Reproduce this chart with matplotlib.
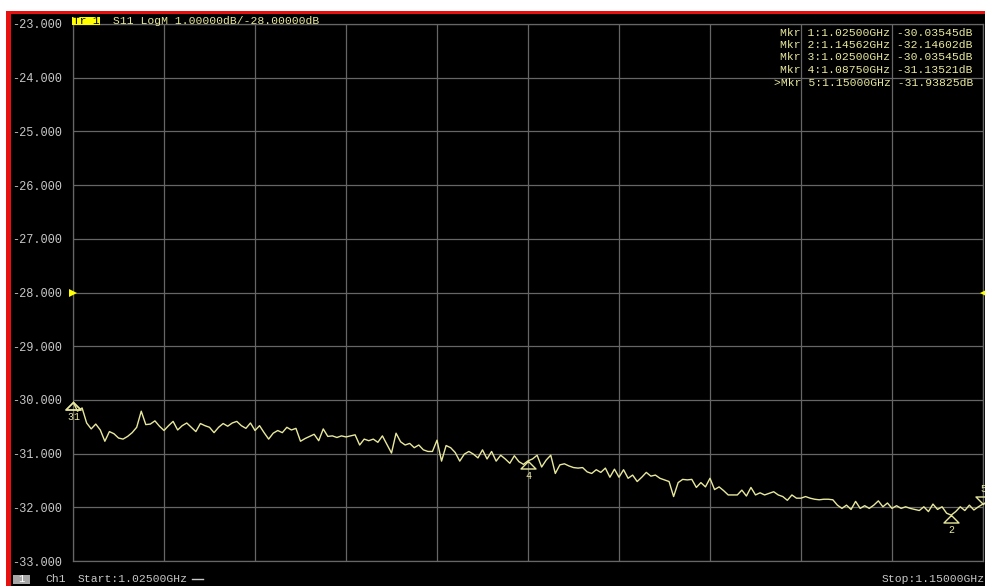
import numpy as np
import matplotlib
matplotlib.use("Agg")
import matplotlib.pyplot as plt
from matplotlib.patches import Rectangle
from matplotlib.path import Path

# ---- stimulus / trace data -------------------------------------------------
start_ghz = 1.025
stop_ghz = 1.15
n_points = 201

s11_db = [
    -30.03545, -30.21, -30.15, -30.43, -30.54, -30.45, -30.56, -30.77, -30.59, -30.63,
    -30.71, -30.73, -30.68, -30.61, -30.51, -30.21, -30.46, -30.45, -30.39, -30.49,
    -30.57, -30.48, -30.40, -30.56, -30.48, -30.43, -30.51, -30.59, -30.44, -30.48,
    -30.51, -30.61, -30.51, -30.44, -30.49, -30.43, -30.40, -30.48, -30.53, -30.43,
    -30.57, -30.48, -30.61, -30.73, -30.62, -30.57, -30.61, -30.51, -30.56, -30.53,
    -30.77, -30.72, -30.68, -30.64, -30.76, -30.54, -30.68, -30.67, -30.70, -30.67,
    -30.69, -30.67, -30.65, -30.84, -30.73, -30.76, -30.73, -30.79, -30.67, -30.83,
    -30.99, -30.62, -30.78, -30.84, -30.81, -30.89, -30.84, -30.93, -30.96, -30.96,
    -30.75, -31.14, -30.85, -30.89, -30.98, -31.14, -31.01, -30.96, -31.01, -31.08,
    -30.93, -31.10, -30.96, -31.14, -31.03, -31.10, -31.18, -31.04, -31.15, -31.20,
    -31.13521, -31.10, -31.03, -31.25, -31.12, -31.03, -31.37, -31.21, -31.19, -31.23,
    -31.26, -31.27, -31.26, -31.34, -31.37, -31.30, -31.35, -31.27, -31.44, -31.29,
    -31.44, -31.30, -31.46, -31.40, -31.52, -31.44, -31.35, -31.42, -31.40, -31.46,
    -31.49, -31.52, -31.80, -31.54, -31.48, -31.49, -31.48, -31.63, -31.54, -31.62,
    -31.46, -31.67, -31.62, -31.69, -31.77, -31.77, -31.77, -31.68, -31.79, -31.63,
    -31.77, -31.73, -31.77, -31.74, -31.71, -31.77, -31.80, -31.87, -31.77, -31.83,
    -31.83, -31.80, -31.83, -31.85, -31.86, -31.85, -31.85, -31.86, -31.96, -32.02,
    -31.96, -32.04, -31.89, -32.02, -31.97, -32.02, -31.96, -31.88, -31.99, -31.92,
    -32.02, -31.97, -32.02, -31.99, -32.02, -32.04, -32.06, -31.99, -32.08, -31.94,
    -32.04, -31.99, -32.11, -32.14602, -32.08, -31.99, -32.06, -31.96, -32.05, -31.99,
    -31.93825,
]

y_ticks = [-23, -24, -25, -26, -27, -28, -29, -30, -31, -32, -33]
ref_level_db = -28.0

marker_ids = [1, 2, 3, 4, 5]
marker_freqs = [1.02500, 1.14562, 1.02500, 1.08750, 1.15000]
active_marker = 5

header_text = "S11 LogM 1.00000dB/-28.00000dB"
channel_text = "Ch1"
start_text = "Start:1.02500GHz"
stop_text = "Stop:1.15000GHz"

# ---- styling -----------------------------------------------------------------
W, H = 985, 586
MONO = ["Liberation Mono", "DejaVu Sans Mono"]
TRACE = "#e8e89c"
LABEL = "#c8c8c8"
GRID = "#666666"

freqs = np.linspace(start_ghz, stop_ghz, n_points)
values = np.asarray(s11_db)

fig = plt.figure(figsize=(W / 100, H / 100), dpi=100, facecolor="black")


def fx(x):
    return x / W


def fy(y):
    return 1 - y / H


def frect(x0, y0, x1, y1, color, z=0):
    fig.add_artist(Rectangle((fx(x0), fy(y1)), fx(x1) - fx(x0), fy(y0) - fy(y1),
                             transform=fig.transFigure, facecolor=color,
                             edgecolor="none", zorder=z))


# window border
frect(0, 0, W, 11, "white")
frect(0, 0, 6, H, "white")
frect(6, 11, W, 14, "#e8110f")
frect(6, 11, 11, H, "#e8110f")

# ---- measurement grid ----------------------------------------------------------
ax = fig.add_axes([fx(73), fy(561), fx(983) - fx(73), fy(24) - fy(561)])
ax.set_facecolor("black")
ax.set_xlim(start_ghz, stop_ghz)
ax.set_ylim(y_ticks[-1], y_ticks[0])
ax.set_xticks(np.linspace(start_ghz, stop_ghz, 11))
ax.set_xticklabels([])
ax.set_yticks(y_ticks)
ax.set_yticklabels([f"{v:.3f}" for v in y_ticks], fontfamily=MONO)
ax.tick_params(axis="both", length=0, pad=8, labelsize=8.6, labelcolor=LABEL)
ax.grid(True, color=GRID, lw=0.9)
for sp in ax.spines.values():
    sp.set_color(GRID)
    sp.set_linewidth(0.9)

ax.plot(freqs, values, color=TRACE, lw=1.0, zorder=3)

# reference level arrows
ax.plot([start_ghz], [ref_level_db], marker=">", color="#ffff00", ms=6,
        markeredgewidth=0, clip_on=False, zorder=4)
ax.plot([stop_ghz], [ref_level_db], marker="<", color="#ffff00", ms=5,
        markeredgewidth=0, clip_on=False, zorder=4)

# markers
tri_below = Path([(0, 0), (1, -1), (-1, -1), (0, 0)])
tri_above = Path([(0, 0), (1, 1), (-1, 1), (0, 0)])
label_dx = {1: 3, 3: -3}
for mid, mf in zip(marker_ids, marker_freqs):
    idx = int(round((mf - start_ghz) / (stop_ghz - start_ghz) * (n_points - 1)))
    mv = values[idx]
    active = mid == active_marker
    ax.plot([freqs[idx]], [mv], marker=tri_above if active else tri_below,
            ms=10.8, mfc="none", mec=TRACE, mew=1.0, clip_on=False, zorder=5)
    dy = 10.5 if active else -11
    ax.annotate(str(mid), (freqs[idx], mv), xytext=(label_dx.get(mid, 0) * 0.72, dy),
                textcoords="offset points", ha="center", va="center",
                color=TRACE, fontsize=7.2, fontfamily=MONO,
                annotation_clip=False, zorder=6)

# ---- header ----------------------------------------------------------------------
frect(72, 16.5, 100, 24.5, "#ffff00", z=5)
fig.text(fx(86), fy(20.8), "Tr 1", ha="center", va="center", color="black",
         fontsize=8.0, fontfamily=MONO, zorder=6)
fig.text(fx(113), fy(20.8), header_text, ha="left", va="center", color=TRACE,
         fontsize=8.2, fontfamily=MONO, zorder=6)

# marker readout table
line_y = [33.5, 45.5, 57.5, 70.0, 82.5]
for mid, mf, yy in zip(marker_ids, marker_freqs, line_y):
    idx = int(round((mf - start_ghz) / (stop_ghz - start_ghz) * (n_points - 1)))
    prefix = ">" if mid == active_marker else ""
    txt = f"{prefix}Mkr {mid}:{mf:.5f}GHz {values[idx]:.5f}dB"
    fig.text(fx(973), fy(yy), txt, ha="right", va="center", color=TRACE,
             fontsize=8.2, fontfamily=MONO, zorder=6)

# ---- status bar ------------------------------------------------------------------
frect(13, 575, 30, 584, "#a8a8a8", z=5)
fig.text(fx(21.5), fy(579.5), "1", ha="center", va="center", color="white",
         fontsize=7.5, fontfamily=MONO, zorder=6)
fig.text(fx(45), fy(579.5), channel_text, ha="left", va="center", color=LABEL,
         fontsize=8.2, fontfamily=MONO, zorder=6)
fig.text(fx(78), fy(579.5), start_text, ha="left", va="center", color=LABEL,
         fontsize=8.2, fontfamily=MONO, zorder=6)
fig.add_artist(plt.Line2D([fx(192), fx(203)], [fy(578.5), fy(578.5)],
                          transform=fig.transFigure, color=LABEL, lw=1.0))
fig.text(fx(882), fy(579.5), stop_text, ha="left", va="center", color=LABEL,
         fontsize=8.2, fontfamily=MONO, zorder=6)

fig.savefig("out.png", dpi=100, facecolor="black")
